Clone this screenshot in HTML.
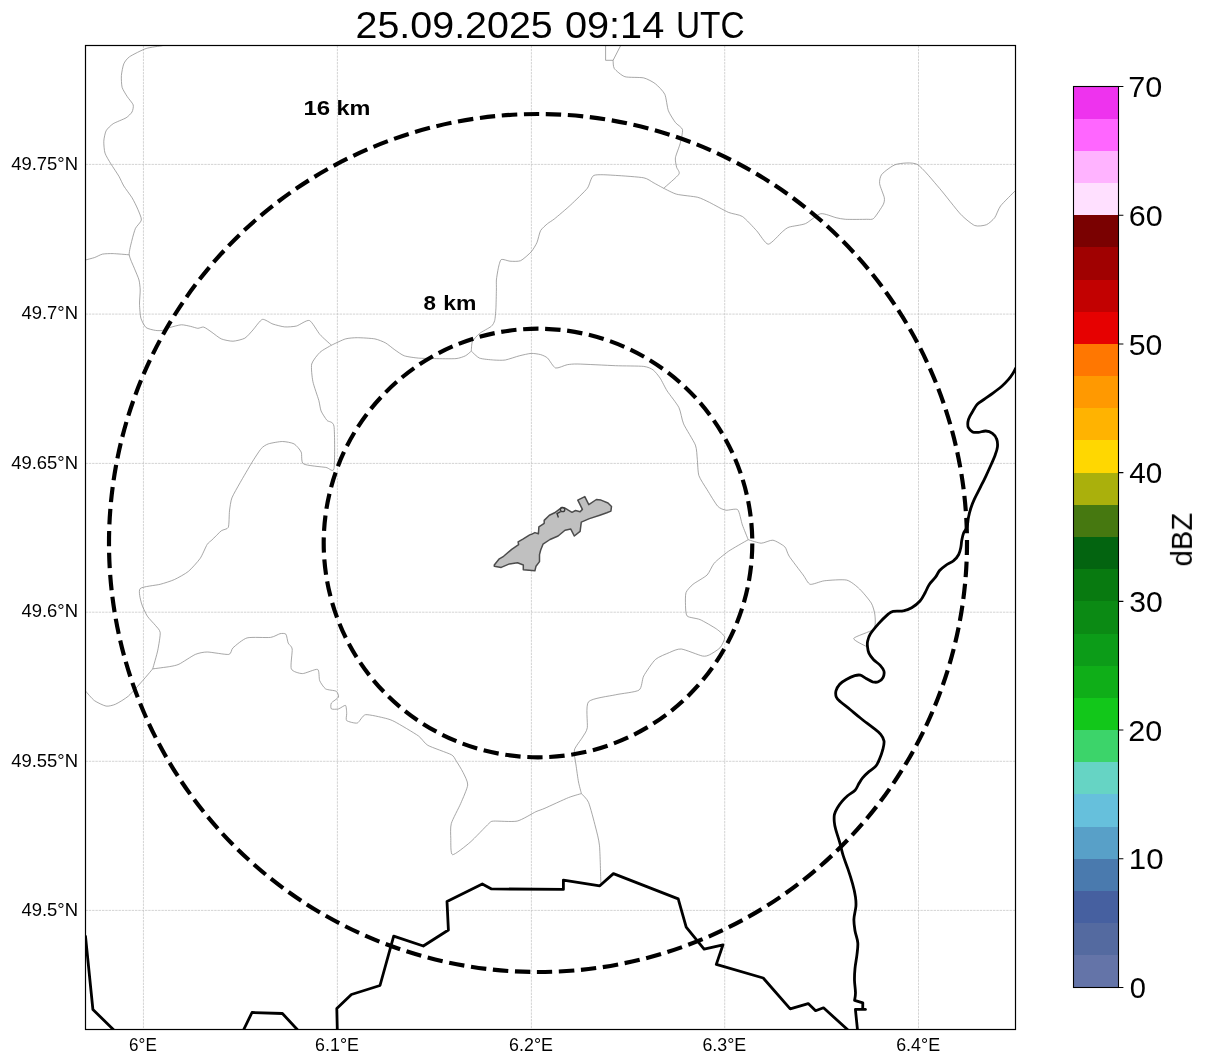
<!DOCTYPE html><html><head><meta charset="utf-8"><style>html,body{margin:0;padding:0;background:#fff;width:1207px;height:1064px;overflow:hidden}svg{display:block}text{font-family:"Liberation Sans",sans-serif}svg{-webkit-font-smoothing:antialiased}</style></head><body>
<svg width="1207" height="1064" viewBox="0 0 1207 1064">
<rect width="1207" height="1064" fill="#fff"/>
<defs><clipPath id="ax"><rect x="85.5" y="45.5" width="930" height="984"/></clipPath></defs>
<g clip-path="url(#ax)">
<path d="M143.45,45.5V1029.5M337.4,45.5V1029.5M531.4,45.5V1029.5M724.7,45.5V1029.5M918.5,45.5V1029.5M85.5,164.4H1015.5M85.5,314.1H1015.5M85.5,463.4H1015.5M85.5,612.2H1015.5M85.5,761.3H1015.5M85.5,910.4H1015.5" fill="none" stroke="#c2c2c2" stroke-width="0.7" stroke-dasharray="2.4 0.9"/>
<path d="M162.5,45.7 C160.7,46 149.7,47.3 146.1,48.5 C142.5,49.7 132.1,55 129.6,56.7 C127.1,58.4 124.7,61.7 123.8,63.8 C122.9,65.9 121.6,72.9 121.4,75.5 C121.2,78.1 121.5,85 122.1,87.3 C122.7,89.6 126.1,94.8 127.3,96.7 C128.5,98.6 132.7,103.2 133.2,104.9 C133.7,106.6 132.8,110.6 132,112 C131.2,113.4 128.2,116.5 126.1,117.8 C124,119.1 115.4,122.3 113.2,123.7 C111,125.1 107.1,128.9 106.1,130.8 C105.1,132.7 103.9,138.8 103.8,141.3 C103.7,143.8 104.2,150.6 105,153.1 C105.8,155.6 109.2,161.1 110.8,163.7 C112.4,166.3 117.7,174.1 119.1,176.6 C120.5,179.1 122.4,183.7 123.8,186 C125.2,188.3 130.4,195.1 132,197.7 C133.6,200.3 136.9,207 137.9,209.5 C138.9,212 141.7,217.9 141.4,220 C141.1,222.1 136.5,226.1 135.5,228.3 C134.5,230.5 132.7,237.1 132,240 C131.3,242.9 128.9,251.7 129.2,254.8 C129.5,257.9 133.2,265.4 134.3,268.2 C135.4,271 138.4,277.6 139,280 C139.6,282.4 140.1,287.3 140.2,290 C140.3,292.7 139.4,301 139.5,304.1 C139.6,307.2 140.2,315.6 140.9,318.2 C141.6,320.8 144.5,326.3 146.1,327.6 C147.7,328.9 153.7,330.1 155.5,330.4 C157.3,330.7 160.9,330.7 162.5,330.4 C164.1,330.1 167.5,328.2 169.6,327.6 C171.7,327 179,324.9 181.3,324.8 C183.6,324.7 188.9,326 190.7,326.4 C192.5,326.8 196.4,328.2 197.8,328.3 C199.2,328.4 202.1,326.7 203.7,327.1 C205.3,327.5 210,331 211.9,332.3 C213.8,333.6 219,337.9 221.3,338.9 C223.6,339.9 230.4,341.3 233,341.2 C235.6,341.1 242.6,339.4 244.8,338.2 C247,337 251.1,332 253,329.9 C254.9,327.8 260.2,320 262.4,319.4 C264.6,318.8 270.5,323.3 273,324.1 C275.5,324.9 282.1,326.7 284.7,326.9 C287.3,327.1 293.8,326.7 296.5,326 C299.2,325.3 306.8,319.6 309.4,320.5 C312,321.4 317.6,331.9 320,334.6 C322.4,337.3 330.1,344 331.4,345.2 M129.2,254.8 C127.4,254.7 116.1,253.7 113.2,253.6 C110.3,253.5 104.7,253.7 102.6,254.1 C100.5,254.5 96.3,257 94.4,257.6 C92.5,258.2 86.5,259.7 85.5,260 M331.4,345.2 C333,344.5 342.7,339.7 345.5,338.9 C348.3,338.1 354.1,337.7 357.3,337.7 C360.5,337.7 371.8,338.3 374.9,338.9 C378,339.5 383.3,341.7 385.5,342.9 C387.7,344.1 392.8,348.5 394.9,349.9 C397,351.3 401.7,354.9 404.3,355.8 C406.9,356.7 415,357.8 418.4,358.1 C421.8,358.4 430.7,358.5 434.8,358.6 C438.9,358.7 452.6,358.9 456,358.6 C459.4,358.3 463.7,356.6 465.4,355.8 C467.1,355 470.7,351.6 471.3,351.1 M331.4,345.2 C330.1,346 322.2,350.2 320,352.3 C317.8,354.4 312.5,360.8 311.7,364 C310.9,367.2 312.1,377.6 312.9,381.6 C313.7,385.6 317.9,397.2 318.8,400.4 C319.7,403.6 320.2,408.8 321.1,411 C322,413.2 325.6,418.7 327,420.4 C328.4,422.1 333.2,421 334,426.3 C334.8,431.6 334.9,464.1 334,468.6 C333.1,473.1 329.2,467.9 325.8,467.4 C322.4,466.9 306.2,465.6 303.5,463.9 C300.8,462.2 302.2,454.3 301.2,452.1 C300.2,449.9 296.2,445.1 294.1,443.9 C292,442.7 285.2,441.5 282.4,441.5 C279.6,441.5 270.6,443.1 268.3,443.9 C266,444.7 263,446.5 261.2,448.6 C259.4,450.7 254.1,458.9 251.8,462.7 C249.5,466.5 242.3,478.8 240.1,482.7 C237.9,486.6 233.1,494.8 231.9,497.9 C230.7,501 229.9,507.7 229.5,510.9 C229.1,514.1 229.2,525.1 228.3,527.3 C227.4,529.5 223.1,529.4 221.3,530.8 C219.5,532.2 213.5,538.5 211.9,540 C210.3,541.5 208.5,542.4 207.2,544.4 C205.9,546.4 202.2,555.5 200.1,558.5 C198,561.5 191.2,569.1 188.4,571.4 C185.6,573.7 177.4,578.2 174.3,579.6 C171.2,581 164,583.3 160.2,584.3 C156.4,585.3 142.3,586.5 140.2,588.6 C138.1,590.7 140.6,600.1 141.4,603.1 C142.2,606.1 145.7,613.6 147.3,616.1 C148.9,618.6 154.1,623.7 155.5,625.5 C156.9,627.3 159.9,629.8 160.2,632.5 C160.5,635.2 158.6,646.1 157.8,650.1 C157,654.1 153.3,666.8 152.7,668.9 M152.7,668.9 C151.6,670.2 145.3,677.7 142.6,680.7 C139.9,683.7 131.5,693.4 128.5,696 C125.5,698.6 118,703.1 115.5,704.2 C113,705.3 108.4,706.5 106.1,706.1 C103.8,705.7 96.7,702.3 94.4,700.6 C92.1,698.9 86.5,692.1 85.5,691 M152.7,668.9 C154.6,668.6 166.7,667.1 169.6,666.6 C172.5,666.1 176.2,665.5 179,664.2 C181.8,662.9 192.3,655.7 195.4,654.4 C198.5,653.1 203.5,652 207.2,652 C210.9,652 226,654.9 228.8,654.4 C231.6,653.9 231,649.6 233,647.8 C235,646 243,639 247.1,637.9 C251.2,636.8 267,637.9 270.6,637.4 C274.2,636.9 278.3,634.1 280,633.7 C281.7,633.3 285,633.2 285.9,634.2 C286.8,635.2 287.5,641.5 288.2,643.1 C288.9,644.7 291.9,646.2 292.2,649 C292.5,651.8 290.2,666.2 291.3,668.9 C292.4,671.6 299.4,673.5 302.3,673.6 C305.2,673.7 315.7,668.6 317.6,669.4 C319.5,670.2 318.8,678.6 319.7,680.7 C320.6,682.8 323.8,687.7 325.6,688.9 C327.4,690.1 334.7,690.3 336.1,691.2 C337.5,692.1 339,695.8 338.5,697.1 C338,698.4 332.2,701.7 331.4,703 C330.6,704.3 330.6,708.3 331.4,708.9 C332.2,709.5 336.9,709.3 338.5,708.9 C340.1,708.5 344.6,704.9 345.5,705.4 C346.4,705.9 346.6,711.9 346.7,713.6 C346.8,715.3 345.5,719.6 346.7,720.6 C347.9,721.6 355.2,723.6 357.3,723 C359.4,722.4 362.4,715.2 365.5,714.7 C368.6,714.2 382.3,717.5 385.5,718.3 C388.7,719.1 391.3,719.9 394.9,721.8 C398.5,723.7 414.8,733.3 418.4,735.9 C422,738.5 424.2,743.2 427.8,745.3 C431.4,747.4 448.2,753 451.3,754.7 C454.4,756.4 454.7,758.7 456,760.6 C457.3,762.5 461.7,769.6 463,772.3 C464.3,775 468,781.6 467.7,785 C467.4,788.4 462.5,799.3 460.7,803.5 C458.9,807.7 452.4,819.6 451.3,823.5 C450.2,827.4 450.7,835.3 450.8,838.7 C450.9,842.1 450.4,854.3 452.5,854.7 C454.6,855.1 466.1,845.7 470.1,842.3 C474.1,838.9 486.3,825.8 488.9,823.5 C491.5,821.2 490.5,821.4 493.6,821.1 C496.7,820.8 512.4,822.1 517.1,821.1 C521.8,820.1 532.8,813.1 535.9,811.7 C539,810.3 541.4,809.8 545,808.2 C548.6,806.6 564.5,799.2 568.5,797.6 C572.5,796 580,794 581.4,793.6 M581.4,793.6 C581.1,792.3 579.1,785.1 578.5,782 C577.9,778.9 576.5,768.5 576,765 C575.5,761.5 573.7,753.1 574.4,750 C575.1,746.9 581.2,739.6 582.6,737.1 C584,734.6 586.7,731.6 587.3,727.7 C587.9,723.8 585.4,705.4 588.5,701.8 C591.6,698.2 609.9,696.1 615.5,694.8 C621.1,693.5 635.9,692.2 639,690.1 C642.1,688 641.9,679.4 643.7,676 C645.5,672.6 652.6,662.1 655.4,659.5 C658.2,656.9 666.7,653.7 669.5,652.5 C672.3,651.3 677.7,648.6 681.3,649 C684.9,649.4 699.3,655.4 702.4,656 C705.5,656.6 707.6,655.7 709.5,654.8 C711.4,653.9 718.3,649.7 720,647.8 C721.7,645.9 725.1,639.3 724.7,637.2 C724.3,635.1 719.2,630.9 716.5,629 C713.8,627.1 703.3,621 700.1,619.6 C696.9,618.2 688.8,617.7 687.2,616.1 C685.6,614.5 685.6,608.1 685.5,605.5 C685.4,602.9 685.2,594.9 686,592.6 C686.8,590.3 690.7,586.2 693,584.3 C695.3,582.4 704.8,577.3 707.1,575 C709.4,572.7 711.9,565.8 714.2,563.2 C716.5,560.6 724.6,554 728.3,551.4 C732,548.8 746,541 748.2,539.7 M581.4,793.6 C582.2,794.6 586.9,798.6 588.5,802.3 C590.1,806 594.3,822.2 595.5,827 C596.7,831.8 598.9,839.6 599.5,845.8 C600.1,852 600.7,879.3 600.9,883.4 M471.3,351.1 C472.2,351.9 477,357.1 479.5,358.1 C482,359.1 490.8,359.8 493.6,360 C496.4,360.2 502.5,360.5 505.3,360 C508.1,359.5 516.6,356.5 519.4,355.8 C522.2,355.1 528.9,353.5 531.2,353.4 C533.5,353.3 538.8,354.1 540.6,354.6 C542.4,355.1 546,356.6 547.6,358.1 C549.2,359.6 553.4,367.3 555.6,368 C557.8,368.7 564.8,365.1 567.3,364.7 C569.8,364.3 572.6,363.9 577.9,364 C583.2,364.1 608.3,365.4 615.5,365.7 C622.7,366 639.6,365.9 643.7,366.4 C647.8,366.9 651.3,368.6 653.1,369.9 C654.9,371.2 658.5,375.8 660.1,378.1 C661.7,380.4 665.1,387.8 667.2,391 C669.3,394.2 677.1,403.9 678.9,407.5 C680.7,411.1 681.8,419.8 683.6,423.9 C685.4,428 693.9,441.2 695.4,445.1 C696.9,449 696.9,455.8 697.3,459.2 C697.7,462.6 697.8,472.2 698.9,475.6 C700,479 705,486.3 707.1,489.7 C709.2,493.1 715.6,503.9 717.7,506.2 C719.8,508.5 723.7,509.8 725.9,510.2 C728.1,510.6 735.9,508.1 737.7,509.7 C739.5,511.3 741.2,521.7 742.4,525 C743.6,528.3 747.6,538.1 748.2,539.7 M748.2,539.7 C749.6,540.1 758.5,543.1 761.2,543.2 C763.9,543.3 770.3,539.8 772.9,540.2 C775.5,540.6 782.9,545 784.7,546.7 C786.5,548.4 787.1,553 789.1,556.1 C791.1,559.2 800.9,571.9 803.2,575 C805.5,578.1 807.9,583.7 810.2,584.3 C812.5,584.9 820.3,581.3 824.3,580.8 C828.3,580.3 842.8,579.2 846.7,580.1 C850.6,581 856.9,586.5 859.6,589 C862.3,591.5 869.6,600.3 871.3,603.1 C873,605.9 874.6,612.1 874.9,614.9 C875.2,617.7 876,626.4 873.7,629 C871.4,631.6 854.5,636.5 853.7,638.4 C852.9,640.3 865.2,645.7 866.6,646.6 M471.3,351.1 C471.4,350.1 471.5,343.6 472.4,341.7 C473.3,339.8 477.4,335.2 479.5,333.5 C481.6,331.8 489.5,327.8 491.2,326.4 C492.9,325 494.2,322.4 494.7,320.5 C495.2,318.6 495.7,312.2 495.9,308.8 C496.1,305.4 496.3,293.2 496.4,290 C496.5,286.8 496.2,282.4 496.4,280 C496.6,277.6 497.8,270.5 498.3,268.2 C498.8,265.9 500,260.3 501.3,259.5 C502.6,258.7 507.9,261.1 510,261.2 C512.1,261.3 518.3,261.7 520.6,260.7 C522.9,259.7 529.4,253.8 531.2,251.8 C533,249.8 536,244.7 537,242.4 C538,240.1 539.4,232.7 540.6,230.6 C541.8,228.5 546.1,224.9 547.6,223.6 C549.1,222.3 551.8,221 554.4,218.9 C557,216.8 567.2,208.2 570.8,204.8 C574.4,201.4 584.8,191.5 587.3,188.3 C589.8,185.1 590.8,176.8 593.9,175.4 C597,174 610,175.1 615.5,175.4 C621,175.7 639.6,177 643.7,177.8 C647.8,178.6 650.9,181.3 653.1,182.5 C655.3,183.7 662.5,187.7 663.7,188.3 M663.7,188.3 C665.4,186.7 677.5,176.5 678.9,174.2 C680.3,171.9 677,169 676.6,167.2 C676.2,165.4 675,160.4 675.4,157.8 C675.8,155.2 679.3,146.8 680.1,143.7 C680.9,140.6 683,131.9 682.5,129.6 C682,127.3 677,124.6 675.4,122.5 C673.8,120.4 669.6,113.9 668.4,110.8 C667.2,107.7 666.2,97.3 664.8,94.3 C663.4,91.3 657.7,85.6 655.4,83.8 C653.1,82 647.1,78.7 643.7,77.9 C640.3,77.1 628.1,77.7 624.9,76.7 C621.7,75.7 615.6,70.3 614.3,68.5 C613,66.7 613.2,61.2 613.1,60.3 M605.6,45.5 L605.6,60.3 L613.1,60.3 L620.7,45.5 M663.7,188.3 C665.1,188.9 672.9,193.2 676.6,194.2 C680.3,195.2 694.1,196.4 697.7,197.3 C701.3,198.2 706.1,200.8 709.5,202.4 C712.9,204.1 724.7,210.7 728.3,212.3 C731.9,213.9 739.3,214.5 742.4,216.5 C745.5,218.5 753.7,227.6 756.5,230.6 C759.3,233.6 765.4,244.1 768.2,244.2 C771,244.3 780,233.7 782.3,231.8 C784.6,229.9 786.5,228 789.1,227.1 C791.7,226.2 802,225.1 805.5,223.6 C809,222.1 817.4,214.3 820.8,213.7 C824.2,213.1 833.4,217.1 836.1,217.7 C838.8,218.3 842.1,219.1 845.5,219.3 C848.9,219.5 863.5,219.4 866.6,219.3 C869.7,219.2 871.9,220 873.7,218.4 C875.5,216.8 881.9,207.1 883.1,204.8 C884.3,202.5 884.7,200 884.3,197.7 C883.9,195.4 879.9,186.2 879.6,183.6 C879.3,181 880.1,176.3 881.9,174.2 C883.7,172.1 892.1,165.5 896,164.4 C899.9,163.3 912.4,161.8 917.2,164.4 C922,167 934.7,182.8 939.5,188.3 C944.3,193.8 956.7,210.1 960.6,214.2 C964.5,218.3 971.9,224.3 974.7,225.5 C977.5,226.7 984.3,225.6 986.5,224.7 C988.7,223.8 993.1,219.8 994.7,217.7 C996.3,215.6 998.3,208.9 1000.6,205.9 C1002.9,202.9 1013.9,192.2 1015.5,190.5" fill="none" stroke="#8a8a8a" stroke-width="0.75" stroke-linejoin="round"/>
<path d="M1015.5,368.5 C1015.1,369.3 1014.2,371.3 1013,373.2 C1011.8,375.1 1010.2,377.5 1008.3,379.7 C1006.4,381.9 1004.3,384.1 1001.8,386.3 C999.3,388.5 996.3,390.7 993.3,392.9 C990.3,395.1 986.6,397.6 983.9,399.5 C981.2,401.4 979,402.5 977.3,404.2 C975.6,405.9 974.9,407.8 973.6,409.8 C972.4,411.8 970.8,414.4 969.8,416.4 C968.8,418.4 968.1,420.1 967.9,422 C967.7,423.9 967.6,426.1 968.4,427.7 C969.2,429.3 971,431.1 972.6,431.9 C974.2,432.7 976.1,432.5 978.3,432.4 C980.5,432.2 983.4,430.9 985.8,431 C988.1,431.1 990.6,432 992.4,433.3 C994.2,434.6 995.8,436.7 996.6,438.9 C997.5,441.1 997.7,443.8 997.5,446.5 C997.3,449.2 996.4,451.6 995.2,454.9 C994,458.1 992.1,462.4 990.5,466 C988.9,469.6 987.5,472.7 985.8,476.3 C984.1,479.9 982.1,483.8 980.2,487.6 C978.3,491.4 976.1,495.4 974.5,498.9 C972.9,502.3 971.8,505.2 970.8,508.3 C969.8,511.4 969,514.6 968.4,517.7 C967.8,520.8 967.8,524.6 967,527.1 C966.2,529.6 964.6,530.5 963.7,532.7 C962.8,534.9 962.3,537.8 961.8,540.2 C961.3,542.6 961.4,544.6 960.9,547 C960.4,549.4 959.9,552.2 958.7,554.5 C957.5,556.8 955.8,558.9 953.6,560.7 C951.5,562.5 948.1,563.7 945.8,565.3 C943.5,566.9 941.3,568.5 939.6,570.5 C937.9,572.5 937.2,574.9 935.5,577.2 C933.8,579.5 931,581.9 929.3,584.5 C927.6,587.1 926.6,590 925.1,592.7 C923.6,595.5 922.2,598.5 920,601 C917.8,603.5 914.5,606.1 911.7,607.7 C908.9,609.3 906.5,610.2 903.4,610.8 C900.3,611.4 895.7,610.7 893.1,611.3 C890.5,611.9 890.3,612.3 887.9,614.4 C885.5,616.5 881.5,620.4 878.6,623.7 C875.7,627 872.1,631.2 870.3,634.1 C868.5,637 868.1,639.2 867.6,641.3 C867.1,643.4 867.3,644.6 867.5,646.6 C867.7,648.6 867.9,651 868.9,653.2 C869.9,655.4 871.7,657.7 873.6,659.7 C875.5,661.7 878.5,663.5 880.2,665.4 C881.9,667.3 883.4,669 883.9,671 C884.4,673 883.9,675.8 883,677.6 C882.1,679.4 880,681.1 878.3,681.8 C876.6,682.5 874.6,682.3 872.6,681.8 C870.6,681.2 868.1,679.6 866.1,678.5 C864.1,677.4 862.3,675.7 860.4,675.2 C858.5,674.7 857.1,675 854.8,675.7 C852.4,676.4 848.8,678.1 846.3,679.5 C843.8,680.9 841.4,682.3 839.7,684.2 C838,686.1 836.5,688.6 836,690.8 C835.5,693 835.6,695.4 836.4,697.3 C837.2,699.2 838.4,700 840.7,702 C843,704 846.8,706.8 850.1,709.5 C853.4,712.2 856.6,715 860.4,718 C864.1,721 869.2,724.7 872.6,727.4 C876,730.1 878.8,732 880.7,734.3 C882.6,736.6 883.6,738.4 884,741 C884.4,743.6 883.5,746.7 882.8,749.7 C882,752.7 880.7,756.4 879.5,759.1 C878.3,761.9 877.5,764.2 875.8,766.2 C874.1,768.2 871.4,769.5 869.2,771.4 C867,773.3 864.3,775.9 862.6,777.9 C860.9,779.9 860.1,781.5 858.9,783.6 C857.6,785.7 857,788.2 855.1,790.2 C853.2,792.2 849.8,793.9 847.6,795.8 C845.4,797.7 843.7,799.4 842,801.4 C840.3,803.4 838.6,805.8 837.3,808 C836,810.2 834.9,812.3 834.4,814.6 C833.9,816.9 834.1,819.5 834.3,822 C834.5,824.5 834.8,826.1 835.7,829.4 C836.6,832.7 838.2,837.2 839.5,841.6 C840.8,846 841.8,851.2 843.2,855.7 C844.6,860.2 846.3,864.2 847.9,868.9 C849.5,873.6 851.3,879.2 852.6,883.9 C853.9,888.6 855,893.3 855.5,897.1 C856,900.9 856.2,902.8 855.9,906.5 C855.6,910.2 854,915.4 853.9,919.4 C853.8,923.4 854.4,926.8 855,930.7 C855.6,934.6 857.5,938.8 857.8,942.9 C858.1,947 857.4,950.9 856.9,955.1 C856.4,959.3 855.4,964.1 855,968.3 C854.6,972.5 854.4,976.4 854.5,980.5 C854.6,984.6 855.5,989.4 855.5,992.7 C855.5,996 854.8,999 854.6,1000.3 M854.6,1000.3 L862.8,1002.8 L862.7,1009.2 L865.5,1009.4 L855.4,1009.4 L857.5,1030 M85.5,936.5 L92.9,1009.5 L113.8,1030 M243.5,1030 L252,1012.5 L282.4,1013.5 L297.7,1030 M337.3,1030 L336.8,1008.6 L351.4,994.5 L380,985.5 L393.7,936.1 L423.3,946 L448.4,930 L447,901.4 L482.3,883.9 L491.5,888.9 L563.4,889.4 L563.4,880.1 L599.8,885.8 L613.4,873.6 L678.2,898.9 L686.2,927.1 L704.1,949.1 L723,944.8 L716.3,964.4 L763.2,978 L790.2,1008.8 L808.2,1003.6 L815.6,1010.7 L823.5,1007.8 L848,1030" fill="none" stroke="#000" stroke-width="2.8" stroke-linejoin="round" stroke-linecap="round"/>
<path d="M494.3,565 L498.9,559.2 L503.6,556.3 L511.7,549.4 L518.6,544.7 L518.1,541.8 L523.3,538.9 L529.7,534.9 L531.4,534.3 L534.9,532.6 L538.4,533.7 L538.9,526.8 L544.2,523.3 L544.2,520.4 L549.4,515.2 L554.6,512.8 L561.6,507.6 L565,508.2 L572,512.3 L575.5,510.5 L580.1,511.7 L582.4,509.4 L577.8,500.1 L584.8,496.6 L588.8,504.7 L596.4,499.5 L601,500.1 L608,503 L611.5,506.5 L610.9,511.1 L606.8,512.8 L599.8,515.2 L589.4,518.6 L581.3,522.1 L580.1,531.4 L574.3,536 L570.8,529.1 L565,530.2 L558.1,536 L550,539.5 L543,544.2 L540.7,550 L539.5,554.6 L539.5,561.6 L536,566.2 L534.9,570.8 L523.3,569.7 L523.3,565 L517.5,562.7 L509.4,563.9 L501.2,567.4 L494.3,566.2Z" fill="#c0c0c0" stroke="#4c4c4c" stroke-width="1.5" stroke-linejoin="round"/>
<circle cx="562.6" cy="509.5" r="2.2" fill="none" stroke="#3a3a3a" stroke-width="1.3"/><path d="M560.6,511.6 L557,513.6 L558.4,517.6" fill="none" stroke="#3a3a3a" stroke-width="1.4"/>
<circle cx="538.0" cy="543.0" r="429.0" fill="none" stroke="#000" stroke-width="4.17" stroke-dasharray="15.42 6.67" stroke-dashoffset="3.3"/>
<circle cx="538.0" cy="543.0" r="214.3" fill="none" stroke="#000" stroke-width="4.17" stroke-dasharray="15.42 6.67" stroke-dashoffset="-0.5"/>
</g>
<rect x="85.5" y="45.5" width="930" height="984" fill="none" stroke="#000" stroke-width="1.2"/>
<g opacity="0.999">
<text x="303.40" y="114.80" font-size="20" font-weight="bold" textLength="26.70" lengthAdjust="spacingAndGlyphs">16</text>
<text x="336.46" y="114.80" font-size="20" font-weight="bold" textLength="33.92" lengthAdjust="spacingAndGlyphs">km</text>
<text x="423.57" y="309.90" font-size="20" font-weight="bold" textLength="12.42" lengthAdjust="spacingAndGlyphs">8</text>
<text x="443.29" y="309.90" font-size="20" font-weight="bold" textLength="33.15" lengthAdjust="spacingAndGlyphs">km</text>
<text x="355.53" y="37.80" font-size="36.2" textLength="197.25" lengthAdjust="spacingAndGlyphs">25.09.2025</text>
<text x="564.91" y="37.80" font-size="36.2" textLength="99.38" lengthAdjust="spacingAndGlyphs">09:14</text>
<text x="675.91" y="37.80" font-size="36.2" textLength="68.74" lengthAdjust="spacingAndGlyphs">UTC</text>
<text x="129.10" y="1051.00" font-size="17.6" textLength="27.69" lengthAdjust="spacingAndGlyphs">6°E</text>
<text x="315.11" y="1051.00" font-size="17.6" textLength="43.84" lengthAdjust="spacingAndGlyphs">6.1°E</text>
<text x="509.11" y="1051.00" font-size="17.6" textLength="43.84" lengthAdjust="spacingAndGlyphs">6.2°E</text>
<text x="702.41" y="1051.00" font-size="17.6" textLength="43.84" lengthAdjust="spacingAndGlyphs">6.3°E</text>
<text x="896.21" y="1051.00" font-size="17.6" textLength="43.84" lengthAdjust="spacingAndGlyphs">6.4°E</text>
<text x="11.18" y="169.60" font-size="17.6" textLength="66.93" lengthAdjust="spacingAndGlyphs">49.75°N</text>
<text x="21.43" y="319.30" font-size="17.6" textLength="56.66" lengthAdjust="spacingAndGlyphs">49.7°N</text>
<text x="11.18" y="468.60" font-size="17.6" textLength="66.93" lengthAdjust="spacingAndGlyphs">49.65°N</text>
<text x="21.43" y="617.40" font-size="17.6" textLength="56.66" lengthAdjust="spacingAndGlyphs">49.6°N</text>
<text x="11.18" y="766.50" font-size="17.6" textLength="66.93" lengthAdjust="spacingAndGlyphs">49.55°N</text>
<text x="21.43" y="915.60" font-size="17.6" textLength="56.66" lengthAdjust="spacingAndGlyphs">49.5°N</text>
<defs><linearGradient id="cb" x1="0" y1="1" x2="0" y2="0"><stop offset="0.0000%" stop-color="#6474a8"/><stop offset="3.5714%" stop-color="#6474a8"/><stop offset="3.5714%" stop-color="#546aa0"/><stop offset="7.1429%" stop-color="#546aa0"/><stop offset="7.1429%" stop-color="#4660a0"/><stop offset="10.7143%" stop-color="#4660a0"/><stop offset="10.7143%" stop-color="#4a7aae"/><stop offset="14.2857%" stop-color="#4a7aae"/><stop offset="14.2857%" stop-color="#58a0c8"/><stop offset="17.8571%" stop-color="#58a0c8"/><stop offset="17.8571%" stop-color="#66c0dc"/><stop offset="21.4286%" stop-color="#66c0dc"/><stop offset="21.4286%" stop-color="#66d4c4"/><stop offset="25.0000%" stop-color="#66d4c4"/><stop offset="25.0000%" stop-color="#3cd46a"/><stop offset="28.5714%" stop-color="#3cd46a"/><stop offset="28.5714%" stop-color="#12c71a"/><stop offset="32.1429%" stop-color="#12c71a"/><stop offset="32.1429%" stop-color="#0fae18"/><stop offset="35.7143%" stop-color="#0fae18"/><stop offset="35.7143%" stop-color="#0c9c18"/><stop offset="39.2857%" stop-color="#0c9c18"/><stop offset="39.2857%" stop-color="#0b8a14"/><stop offset="42.8571%" stop-color="#0b8a14"/><stop offset="42.8571%" stop-color="#087a10"/><stop offset="46.4286%" stop-color="#087a10"/><stop offset="46.4286%" stop-color="#036410"/><stop offset="50.0000%" stop-color="#036410"/><stop offset="50.0000%" stop-color="#467810"/><stop offset="53.5714%" stop-color="#467810"/><stop offset="53.5714%" stop-color="#aab00c"/><stop offset="57.1429%" stop-color="#aab00c"/><stop offset="57.1429%" stop-color="#ffd700"/><stop offset="60.7143%" stop-color="#ffd700"/><stop offset="60.7143%" stop-color="#ffb300"/><stop offset="64.2857%" stop-color="#ffb300"/><stop offset="64.2857%" stop-color="#ff9900"/><stop offset="67.8571%" stop-color="#ff9900"/><stop offset="67.8571%" stop-color="#ff7700"/><stop offset="71.4286%" stop-color="#ff7700"/><stop offset="71.4286%" stop-color="#e60000"/><stop offset="75.0000%" stop-color="#e60000"/><stop offset="75.0000%" stop-color="#c20000"/><stop offset="78.5714%" stop-color="#c20000"/><stop offset="78.5714%" stop-color="#a00000"/><stop offset="82.1429%" stop-color="#a00000"/><stop offset="82.1429%" stop-color="#7a0000"/><stop offset="85.7143%" stop-color="#7a0000"/><stop offset="85.7143%" stop-color="#ffe0ff"/><stop offset="89.2857%" stop-color="#ffe0ff"/><stop offset="89.2857%" stop-color="#ffb3ff"/><stop offset="92.8571%" stop-color="#ffb3ff"/><stop offset="92.8571%" stop-color="#ff66ff"/><stop offset="96.4286%" stop-color="#ff66ff"/><stop offset="96.4286%" stop-color="#ee33ee"/><stop offset="100.0000%" stop-color="#ee33ee"/></linearGradient></defs>
<rect x="1073.5" y="86.5" width="45.0" height="901.0" fill="url(#cb)"/>
<rect x="1073.5" y="86.5" width="45.0" height="901.0" fill="none" stroke="#000" stroke-width="1.1"/>
<text x="1129.84" y="998.20" font-size="30" textLength="16.19" lengthAdjust="spacingAndGlyphs">0</text>
<text x="1128.85" y="869.49" font-size="30" textLength="34.79" lengthAdjust="spacingAndGlyphs">10</text>
<text x="1128.37" y="740.77" font-size="30" textLength="33.94" lengthAdjust="spacingAndGlyphs">20</text>
<text x="1129.17" y="612.06" font-size="30" textLength="33.53" lengthAdjust="spacingAndGlyphs">30</text>
<text x="1129.23" y="483.34" font-size="30" textLength="33.05" lengthAdjust="spacingAndGlyphs">40</text>
<text x="1128.69" y="354.63" font-size="30" textLength="33.61" lengthAdjust="spacingAndGlyphs">50</text>
<text x="1128.77" y="225.91" font-size="30" textLength="33.94" lengthAdjust="spacingAndGlyphs">60</text>
<text x="1128.29" y="97.20" font-size="30" textLength="34.02" lengthAdjust="spacingAndGlyphs">70</text>
<path d="M1118.5,987.50h4.9M1118.5,858.79h4.9M1118.5,730.07h4.9M1118.5,601.36h4.9M1118.5,472.64h4.9M1118.5,343.93h4.9M1118.5,215.21h4.9M1118.5,86.50h4.9" stroke="#000" stroke-width="1.1"/>
<g transform="translate(1191.9,565.2) rotate(-90)"><text x="-1.25" y="0.00" font-size="30" textLength="53.77" lengthAdjust="spacingAndGlyphs">dBZ</text></g>
</g>
</svg></body></html>
